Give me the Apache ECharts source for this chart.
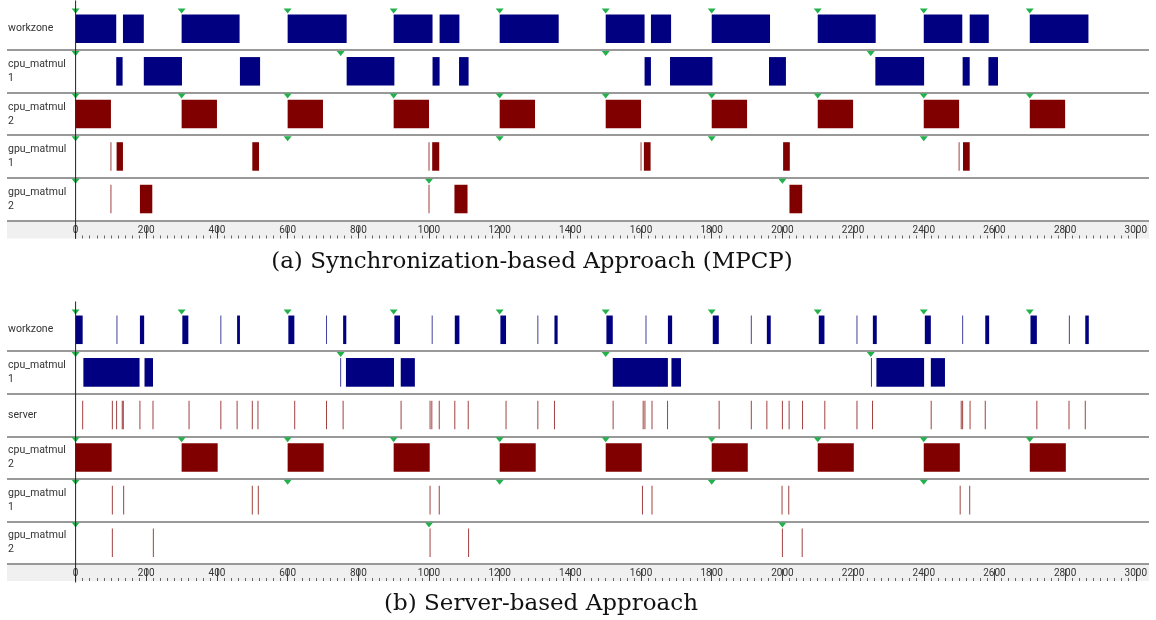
<!DOCTYPE html>
<html><head><meta charset="utf-8">
<script src="https://cdn.jsdelivr.net/npm/echarts@6/dist/echarts.min.js"></script>
<style>html,body{margin:0;padding:0;background:#fff}#c{width:1156px;height:620px}</style>
</head><body><div id="c"></div>
<script>
// ---------- categories ----------
const rowsA = ['workzone', 'cpu_matmul\n1', 'cpu_matmul\n2', 'gpu_matmul\n1', 'gpu_matmul\n2'];
const rowsB = ['workzone', 'cpu_matmul\n1', 'server', 'cpu_matmul\n2', 'gpu_matmul\n1', 'gpu_matmul\n2'];
const xTickLabels = [0, 200, 400, 600, 800, 1000, 1200, 1400, 1600, 1800, 2000, 2200, 2400, 2600, 2800, 3000];
const captionA = '(a) Synchronization-based Approach (MPCP)';
const captionB = '(b) Server-based Approach';

// ---------- release times (green markers) ----------
const relWorkzone = [0, 300, 600, 900, 1200, 1500, 1800, 2100, 2400, 2700];
const relCpu1 = [0, 750, 1500, 2250];
const relCpu2 = [0, 300, 600, 900, 1200, 1500, 1800, 2100, 2400, 2700];
const relGpu1 = [0, 600, 1200, 1800, 2400];
const relGpu2 = [0, 1000, 2000];

// ---------- (a) Synchronization-based (MPCP) ----------
const aWorkzone = [[0,115],[134,193],[300,464],[600,767],[900,1010],[1030,1086],[1200,1367],[1500,1610],[1628,1685],[1800,1965],[2100,2264],[2400,2509],[2530,2584],[2700,2866]];
const aCpu1 = [[115,133],[193,301],[465,522],[767,902],[1010,1030],[1085,1112],[1610,1628],[1682,1802],[1962,2010],[2263,2401],[2510,2530],[2583,2610]];
const aCpu2 = [[0,100],[300,400],[600,700],[900,1000],[1200,1300],[1500,1600],[1800,1900],[2100,2200],[2400,2500],[2700,2800]];
const aGpu1 = [[116,134],[500,519],[1009,1029],[1608,1627],[2002,2021],[2511,2530]];
const aGpu1Marks = [100, 1000, 1600, 2500];
const aGpu2 = [[182,217],[1072,1109],[2020,2056]];
const aGpu2Marks = [100, 1000];

// ---------- (b) Server-based ----------
const bWorkzone = [[0,20],[182,194],[302,319],[457,465],[602,619],[757,766],[902,918],[1073,1086],[1202,1218],[1355,1364],[1502,1520],[1676,1688],[1803,1820],[1956,1967],[2103,2119],[2256,2267],[2403,2420],[2574,2585],[2702,2720],[2857,2867]];
const bWorkzoneMarks = [117, 411, 710, 1009, 1308, 1614, 1912, 2211, 2510, 2812];
const bCpu1 = [[22,181],[195,219],[765,901],[920,960],[1520,1676],[1686,1713],[2266,2401],[2420,2460]];
const bCpu1Marks = [750, 2252];
const bServerMarks = [20,104,116,132,135,182,219,321,411,457,500,516,620,710,757,921,1003,1008,1029,1073,1111,1218,1308,1355,1521,1606,1611,1631,1675,1821,1912,1956,2000,2019,2057,2120,2211,2255,2421,2506,2510,2531,2574,2720,2811,2857];
const bCpu2 = [[0,102],[300,402],[600,702],[900,1002],[1200,1302],[1500,1602],[1800,1902],[2100,2202],[2400,2502],[2700,2802]];
const bGpu1Marks = [104,136,500,517,1003,1029,1604,1631,1999,2018,2503,2530];
const bGpu2Marks = [104,220,1003,1112,2000,2056];

// ---------- layout / style constants ----------
const NAVY = '#000080', MAROON = '#800000', GREEN = '#22b14c';
const PLOT_LEFT = 7, ZERO_X = 75.6, X3000 = 1135.8, PLOT_RIGHT = 1149;
const pxPerUnit = (X3000 - ZERO_X) / 3000;
const xMin = -(ZERO_X - PLOT_LEFT) / pxPerUnit;
const xMax = (PLOT_RIGHT - ZERO_X) / pxPerUnit;
const FONT = 'Roboto';

// kind: 0 navy bar, 1 maroon bar, 2 navy instant, 3 maroon instant
function rowItems(row, bars, barKind, marks, markKind) {
  const out = [];
  (bars || []).forEach(b => out.push([row, b[0], b[1], barKind]));
  (marks || []).forEach(m => out.push([row, m, m, markKind]));
  return out;
}
function relItems(row, rel) { return rel.map(t => [row, t]); }

const dataA = [].concat(
  rowItems(0, aWorkzone, 0), rowItems(1, aCpu1, 0), rowItems(2, aCpu2, 1),
  rowItems(3, aGpu1, 1, aGpu1Marks, 3), rowItems(4, aGpu2, 1, aGpu2Marks, 3));
const relA = [].concat(relItems(0, relWorkzone), relItems(1, relCpu1), relItems(2, relCpu2), relItems(3, relGpu1), relItems(4, relGpu2));

const dataB = [].concat(
  rowItems(0, bWorkzone, 0, bWorkzoneMarks, 2), rowItems(1, bCpu1, 0, bCpu1Marks, 2),
  rowItems(2, [], 1, bServerMarks, 3), rowItems(3, bCpu2, 1),
  rowItems(4, [], 1, bGpu1Marks, 3), rowItems(5, [], 1, bGpu2Marks, 3));
const relB = [].concat(relItems(0, relWorkzone), relItems(1, relCpu1), relItems(3, relCpu2), relItems(4, relGpu1), relItems(5, relGpu2));

function renderBar(params, api) {
  const row = api.value(0), s = api.value(1), e = api.value(2), kind = api.value(3);
  const p0 = api.coord([s, row]), p1 = api.coord([e, row]);
  const bandH = api.size([0, 1])[1];
  const h = bandH * 0.67;
  const instant = kind >= 2;
  const fill = (kind === 0 || kind === 2) ? NAVY : MAROON;
  let x = p0[0], w = p1[0] - p0[0];
  if (instant) { w = 1; x = p0[0] - 0.5; }
  return {
    type: 'rect',
    shape: { x: x, y: p0[1] - h / 2, width: w, height: h },
    style: { fill: fill, opacity: instant ? 0.75 : 1 }
  };
}
function renderRelease(params, api) {
  const p = api.coord([api.value(1), api.value(0)]);
  const bandH = api.size([0, 1])[1];
  const top = p[1] - bandH / 2 + 1;
  return {
    type: 'polygon',
    shape: { points: [[p[0] - 4, top], [p[0] + 4, top], [p[0], top + 5]] },
    style: { fill: GREEN }
  };
}
function renderFrame(params, api) {
  const first = api.coord([0, 0]), last = api.coord([0, api.value(1)]);
  const bandH = api.size([0, 1])[1];
  return {
    type: 'line',
    shape: { x1: first[0], y1: first[1] - bandH / 2 - 7, x2: first[0], y2: last[1] + bandH / 2 + 18.5 },
    style: { stroke: '#222', lineWidth: 1 }
  };
}

function rowAxis(gridIndex, rows) {
  return {
    type: 'category', gridIndex: gridIndex, data: rows, inverse: true,
    axisLine: { show: false, onZero: false }, axisTick: { show: false },
    axisLabel: { inside: true, margin: 1, interval: 0, align: 'left', fontFamily: FONT, fontSize: 10.5, lineHeight: 14, color: '#333' },
    splitLine: { show: true, showMinLine: false, showMaxLine: true, lineStyle: { color: '#999', width: 2 } }
  };
}
function rulerAxis(gridIndex) {
  return {
    type: 'value', gridIndex: gridIndex, min: 0, max: 3000, interval: 200, position: 'bottom',
    axisLine: { show: false },
    axisTick: { show: true, inside: true, length: 12, lineStyle: { color: '#444', width: 1 } },
    minorTick: { show: true, splitNumber: 10, length: 3, lineStyle: { color: '#666', width: 1 } },
    splitLine: { show: false },
    axisLabel: { inside: true, margin: 3, fontFamily: FONT, fontSize: 10, color: '#333',
      formatter: v => xTickLabels.indexOf(v) >= 0 ? String(v) : '' }
  };
}
function hiddenX(gridIndex) {
  return { type: 'value', gridIndex: gridIndex, min: xMin, max: xMax, show: false };
}

const option = {
  animation: false,
  backgroundColor: '#fff',
  title: [
    { text: captionA, left: 527, top: 246, textAlign: 'center', textStyle: { fontFamily: 'DejaVu Serif', fontWeight: 'normal', fontSize: 23, color: '#111' } },
    { text: captionB, left: 536, top: 588, textAlign: 'center', textStyle: { fontFamily: 'DejaVu Serif', fontWeight: 'normal', fontSize: 23, color: '#111' } }
  ],
  graphic: [
    { type: 'rect', shape: { x: PLOT_LEFT, y: 221.3, width: PLOT_RIGHT - PLOT_LEFT, height: 17.2 }, style: { fill: '#f0f0f0' }, z: -10 },
    { type: 'rect', shape: { x: PLOT_LEFT, y: 565, width: PLOT_RIGHT - PLOT_LEFT, height: 16 }, style: { fill: '#f0f0f0' }, z: -10 }
  ],
  grid: [
    { left: PLOT_LEFT, right: 1156 - PLOT_RIGHT, top: 7.5, height: 212.8 },
    { left: ZERO_X, right: 1156 - X3000, top: 220.3, height: 18.2 },
    { left: PLOT_LEFT, right: 1156 - PLOT_RIGHT, top: 308.5, height: 255.5 },
    { left: ZERO_X, right: 1156 - X3000, top: 564, height: 17 }
  ],
  xAxis: [hiddenX(0), rulerAxis(1), hiddenX(2), rulerAxis(3)],
  yAxis: [
    rowAxis(0, rowsA),
    { type: 'value', gridIndex: 1, show: false },
    rowAxis(2, rowsB),
    { type: 'value', gridIndex: 3, show: false }
  ],
  series: [
    { type: 'custom', xAxisIndex: 0, yAxisIndex: 0, renderItem: renderBar, encode: { x: [1, 2], y: 0 }, data: dataA, clip: false },
    { type: 'custom', xAxisIndex: 0, yAxisIndex: 0, renderItem: renderRelease, encode: { x: 1, y: 0 }, data: relA, clip: false, z: 3 },
    { type: 'custom', xAxisIndex: 0, yAxisIndex: 0, renderItem: renderFrame, encode: { x: 0, y: 1 }, data: [[0, rowsA.length - 1]], clip: false, z: 4 },
    { type: 'custom', xAxisIndex: 2, yAxisIndex: 2, renderItem: renderBar, encode: { x: [1, 2], y: 0 }, data: dataB, clip: false },
    { type: 'custom', xAxisIndex: 2, yAxisIndex: 2, renderItem: renderRelease, encode: { x: 1, y: 0 }, data: relB, clip: false, z: 3 },
    { type: 'custom', xAxisIndex: 2, yAxisIndex: 2, renderItem: renderFrame, encode: { x: 0, y: 1 }, data: [[0, rowsB.length - 1]], clip: false, z: 4 }
  ]
};
const chart = echarts.init(document.getElementById('c'), null, { renderer: 'canvas' });
chart.setOption(option);
</script></body></html>
